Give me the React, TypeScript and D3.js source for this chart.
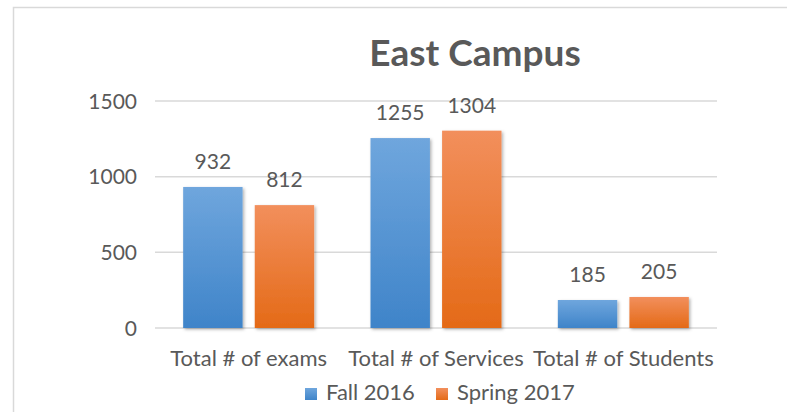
import React from "react";
import * as d3 from "d3";

const categories = ["Total # of exams", "Total # of Services", "Total # of Students"];
const seriesNames = ["Fall 2016", "Spring 2017"];
const fall2016 = [932, 1255, 185];
const spring2017 = [812, 1304, 205];
const yTicks = [0, 500, 1000, 1500];

const W = 787;
const H = 412;
const FONT = "Lato, 'Open Sans', sans-serif";
const TEXT = "#595959";

export default function App() {
  const left = 155;
  const right = 717;
  const top = 101;
  const bottom = 328;
  const x = d3.scaleBand<string>().domain(categories).range([left, right]).paddingInner(0).paddingOuter(0);
  const inner = d3.scaleBand<string>().domain(seriesNames).range([0, 131]).paddingInner(0.17);
  const y = d3.scaleLinear().domain([0, 1500]).range([bottom, top]);
  const series = [fall2016, spring2017];
  const colors = [
    ["#6fa6dd", "#3f84c9"],
    ["#f28f5c", "#e46a17"],
  ];
  const legendX = [305, 436];

  return (
    <svg width={W} height={H} style={{ position: "fixed", left: 0, top: 0, background: "#fff" }}>
      <defs>
        {colors.map((c, i) => (
          <linearGradient key={i} id={`g${i}`} x1="0" y1="0" x2="0" y2="1">
            <stop offset="0%" stopColor={c[0]} />
            <stop offset="100%" stopColor={c[1]} />
          </linearGradient>
        ))}
        <filter id="sh" x="-20%" y="-20%" width="140%" height="140%">
          <feDropShadow dx="1.5" dy="1.5" stdDeviation="1.5" floodColor="#000" floodOpacity="0.3" />
        </filter>
      </defs>
      <rect x={0} y={0} width={W} height={H} fill="#fff" />
      <path d={`M13.5,${H} V7.5 H${W}`} fill="none" stroke="#d9d9d9" strokeWidth={1.5} />
      <text x={475} y={66} textAnchor="middle" fontFamily={FONT} fontWeight="bold" fontSize={37} fill={TEXT}>
        East Campus
      </text>
      {yTicks.map((t) => (
        <g key={t}>
          <line x1={left} x2={right} y1={y(t)} y2={y(t)} stroke="#d9d9d9" strokeWidth={1.5} />
          <text x={137} y={y(t) + 7.5} textAnchor="end" fontFamily={FONT} fontSize={21} fill={TEXT}>
            {t}
          </text>
        </g>
      ))}
      {categories.map((c, ci) => {
        const bx = (x(c) as number) + (x.bandwidth() - 131) / 2;
        return (
          <g key={c}>
            {series.map((s, si) => {
              const xx = bx + (inner(seriesNames[si]) as number);
              const yy = y(s[ci]);
              return (
                <g key={si}>
                  <rect
                    x={xx}
                    y={yy}
                    width={inner.bandwidth()}
                    height={bottom - yy}
                    fill={`url(#g${si})`}
                    filter="url(#sh)"
                  />
                  <text
                    x={xx + inner.bandwidth() / 2}
                    y={yy - 18}
                    textAnchor="middle"
                    fontFamily={FONT}
                    fontSize={21}
                    fill={TEXT}
                  >
                    {s[ci]}
                  </text>
                </g>
              );
            })}
            <text
              x={(x(c) as number) + x.bandwidth() / 2}
              y={366}
              textAnchor="middle"
              fontFamily={FONT}
              fontSize={22}
              fill={TEXT}
            >
              {c}
            </text>
          </g>
        );
      })}
      {seriesNames.map((n, i) => {
        const lx = legendX[i];
        return (
          <g key={n}>
            <rect x={lx} y={388} width={12} height={12} fill={`url(#g${i})`} />
            <text x={lx + 21} y={400} fontFamily={FONT} fontSize={22} fill={TEXT}>
              {n}
            </text>
          </g>
        );
      })}
    </svg>
  );
}
